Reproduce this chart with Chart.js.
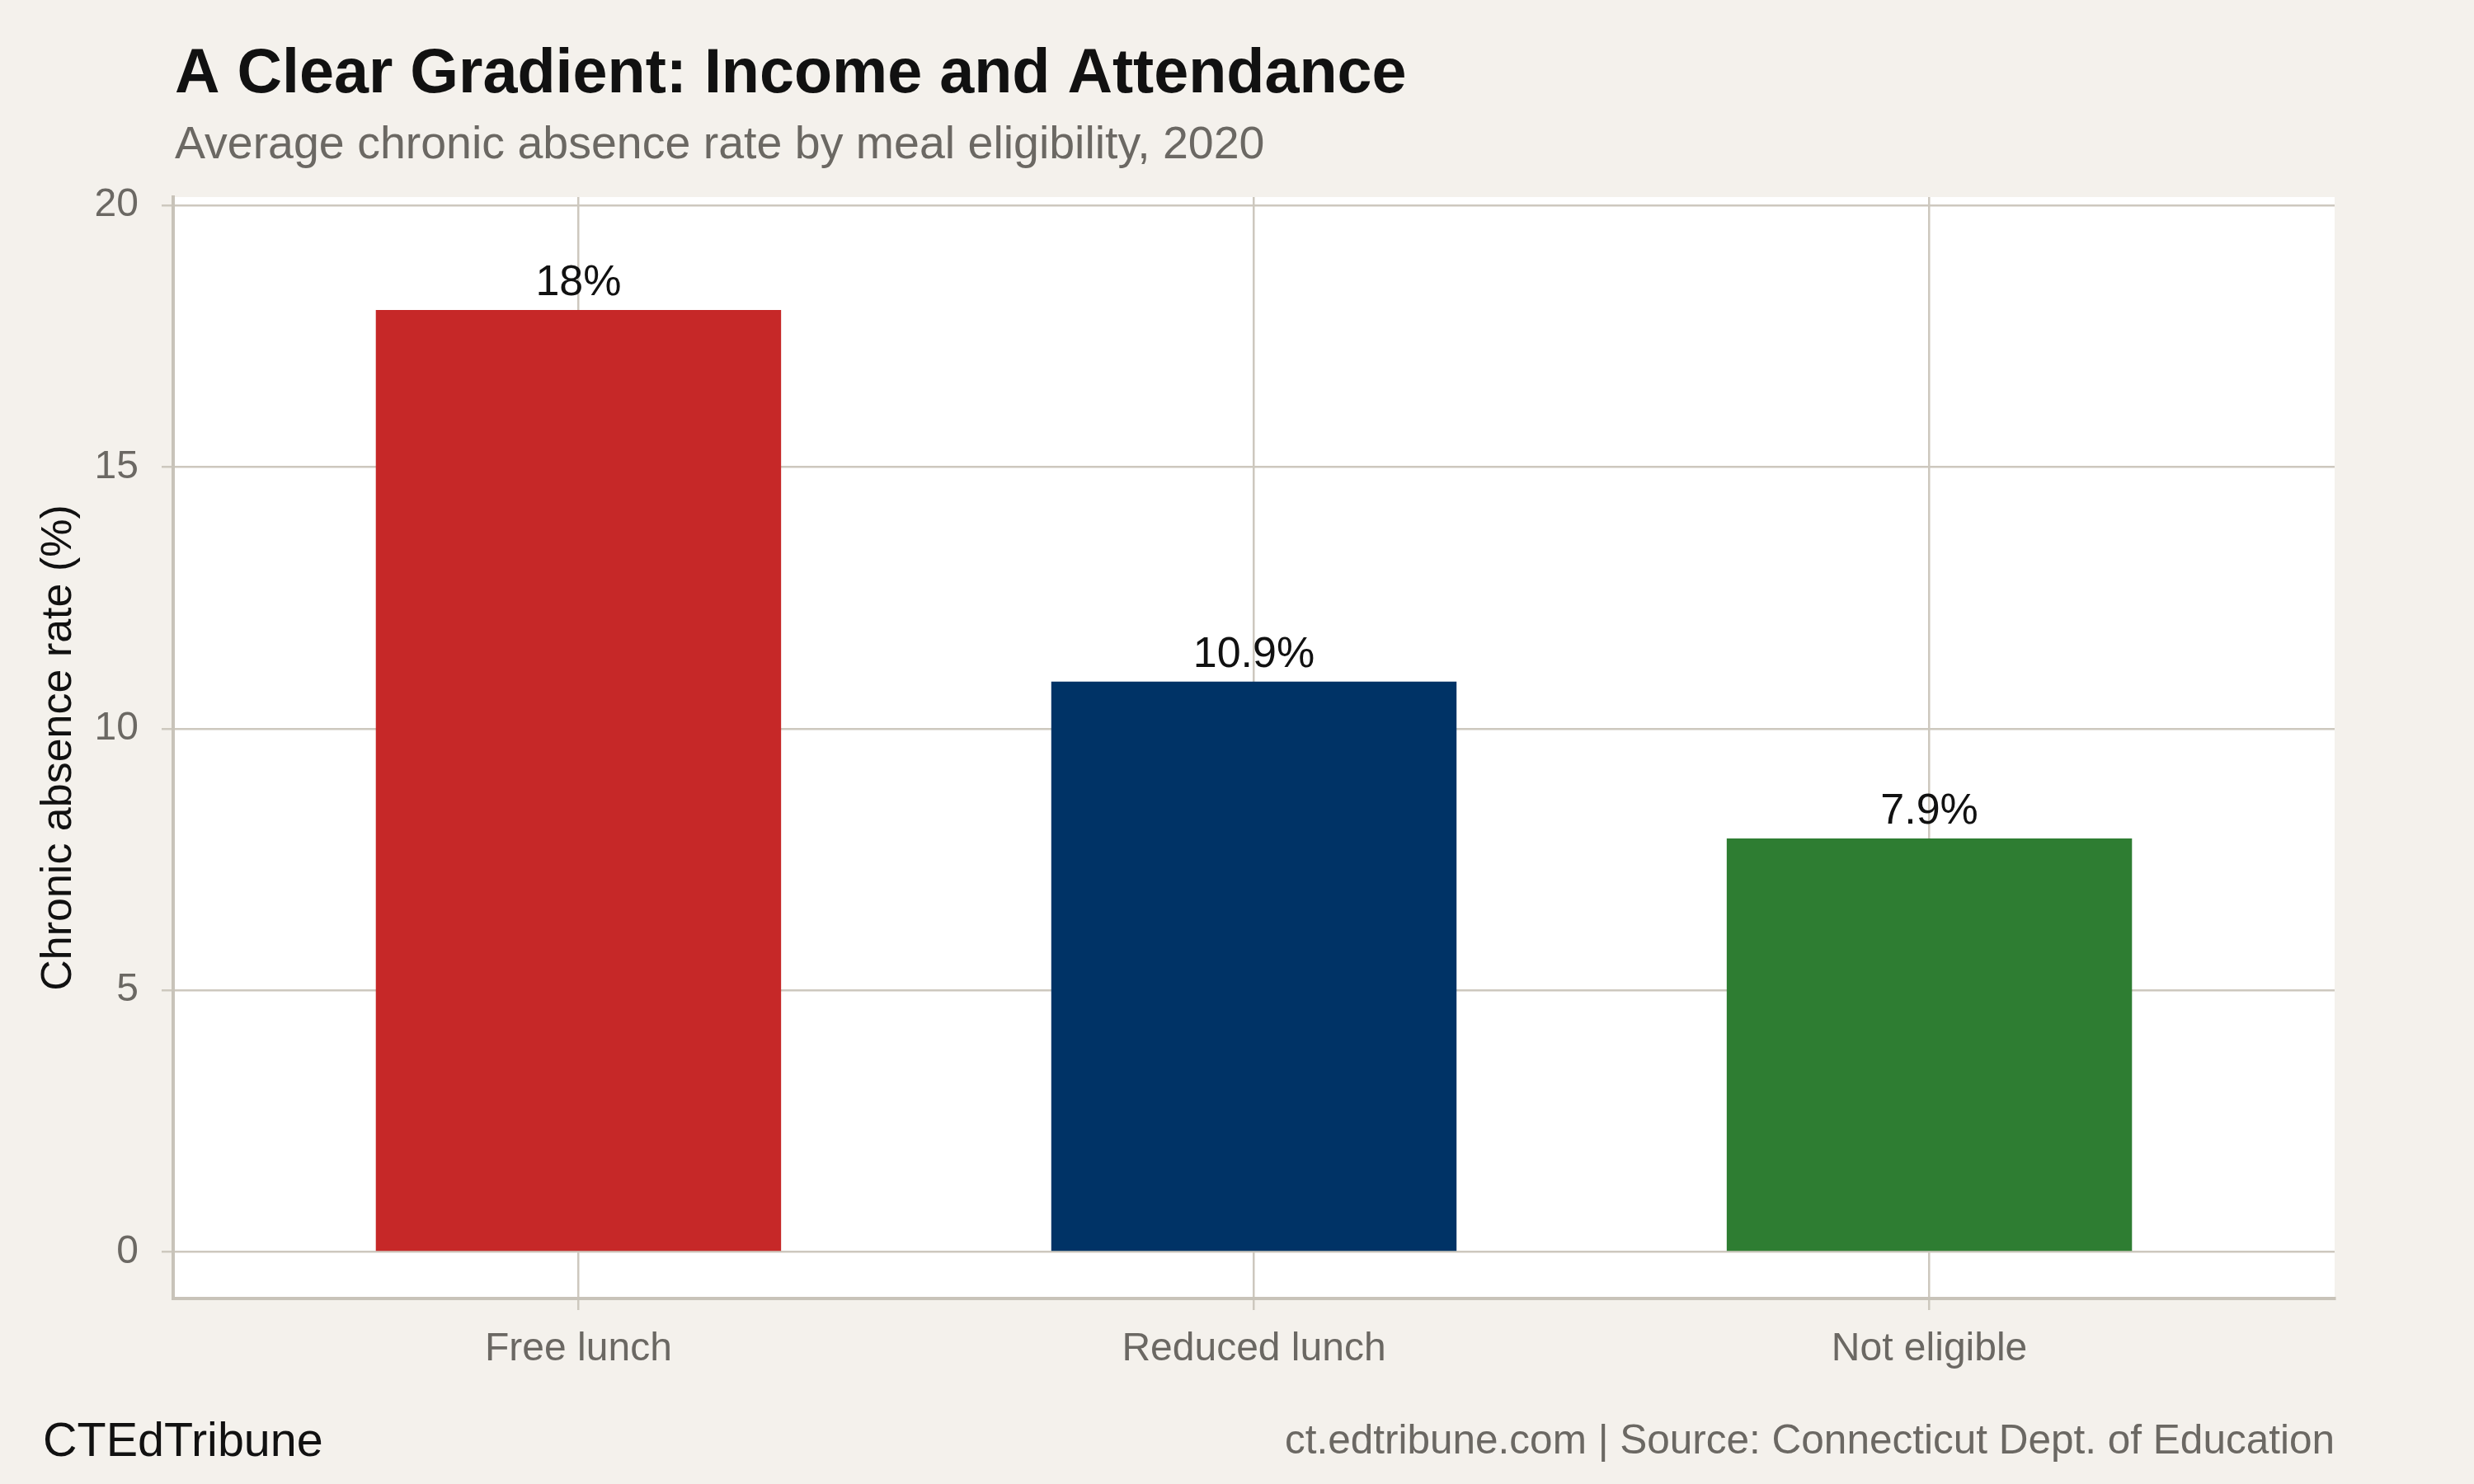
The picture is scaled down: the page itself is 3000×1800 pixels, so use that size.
<!DOCTYPE html>
<html>
<head>
<meta charset="utf-8">
<script src="https://cdn.jsdelivr.net/npm/chart.js@4.4.1/dist/chart.umd.min.js"></script>
<style>
  html, body { margin: 0; padding: 0; background: #f4f1ec; }
  canvas { display: block; }
</style>
</head>
<body>
<canvas id="chart" width="3000" height="1800" style="width:3000px;height:1800px"></canvas>
<script>
// ---- Data ----
const categories = ["Free lunch", "Reduced lunch", "Not eligible"];
const absenceRates = [18, 10.9, 7.9];
const barColors = ["#c62828", "#003366", "#2e7d32"];
const yTickValues = [0, 5, 10, 15, 20];

const titleText = "A Clear Gradient: Income and Attendance";
const subtitleText = "Average chronic absence rate by meal eligibility, 2020";
const yAxisTitle = "Chronic absence rate (%)";
const footerLeft = "CTEdTribune";
const footerRight = "ct.edtribune.com | Source: Connecticut Dept. of Education";

// ---- Style ----
const FONT = '"Liberation Sans", Arial, Helvetica, sans-serif';
const BG = '#f4f1ec';
const GRID = '#cdc8be';
const AXIS_LINE = '#c8c3b9';
const AXIS_TEXT = '#6b6863';
const DARK = '#111111';

const backgroundPlugin = {
  id: 'panelBackground',
  beforeDraw(chart) {
    const { ctx, chartArea: a } = chart;
    ctx.save();
    ctx.fillStyle = BG;
    ctx.fillRect(0, 0, chart.width, chart.height);
    ctx.fillStyle = '#ffffff';
    ctx.fillRect(a.left, a.top, a.right - a.left, a.bottom - a.top);
    ctx.restore();
  }
};

const valueLabelPlugin = {
  id: 'valueLabels',
  afterDatasetsDraw(chart) {
    const { ctx } = chart;
    const meta = chart.getDatasetMeta(0);
    ctx.save();
    ctx.font = `52px ${FONT}`;
    ctx.fillStyle = DARK;
    ctx.textAlign = 'center';
    ctx.textBaseline = 'alphabetic';
    meta.data.forEach((bar, i) => {
      ctx.fillText(`${absenceRates[i]}%`, bar.x, bar.y - 18);
    });
    ctx.restore();
  }
};

const textPlugin = {
  id: 'headerFooter',
  afterDraw(chart) {
    const { ctx, chartArea: a } = chart;
    ctx.save();
    ctx.textBaseline = 'alphabetic';
    ctx.textAlign = 'left';
    ctx.fillStyle = DARK;
    ctx.font = `bold 75.5px ${FONT}`;
    ctx.fillText(titleText, a.left + 2, 112);
    ctx.fillStyle = AXIS_TEXT;
    ctx.font = `55.5px ${FONT}`;
    ctx.fillText(subtitleText, a.left + 2, 192);
    ctx.fillStyle = DARK;
    ctx.font = `57.5px ${FONT}`;
    ctx.fillText(footerLeft, 52, 1766);
    ctx.textAlign = 'right';
    ctx.fillStyle = AXIS_TEXT;
    ctx.font = `49.5px ${FONT}`;
    ctx.fillText(footerRight, a.right, 1763);
    ctx.restore();
  }
};

new Chart(document.getElementById('chart'), {
  type: 'bar',
  data: {
    datasets: [{
      data: categories.map((c, i) => ({ x: i, y: absenceRates[i] })),
      backgroundColor: barColors,
      borderWidth: 0,
      barPercentage: 0.6,
      categoryPercentage: 1.0
    }]
  },
  options: {
    responsive: false,
    devicePixelRatio: 1,
    animation: false,
    layout: { padding: { top: 239, right: 169, left: 0, bottom: 0 } },
    plugins: {
      legend: { display: false },
      tooltip: { enabled: false },
      title: { display: false }
    },
    scales: {
      x: {
        type: 'linear',
        offset: false,
        min: -0.6,
        max: 2.6,
        afterBuildTicks(scale) { scale.ticks = categories.map((c, i) => ({ value: i })); },
        afterFit(scale) { scale.height = 225; },
        ticks: {
          callback: (v) => categories[v],
          font: { family: FONT, size: 48 },
          color: AXIS_TEXT,
          padding: 19,
          maxRotation: 0,
          autoSkip: false
        },
        grid: {
          offset: false,
          color: GRID,
          lineWidth: 2.5,
          tickLength: 14,
          tickColor: GRID,
          tickWidth: 2.5
        },
        border: { display: true, color: AXIS_LINE, width: 4 }
      },
      y: {
        min: -0.89,
        max: 20.16,
        afterBuildTicks(scale) { scale.ticks = yTickValues.map(v => ({ value: v })); },
        afterFit(scale) { scale.width = 210; },
        ticks: {
          callback: (v) => String(v),
          font: { family: FONT, size: 48 },
          color: AXIS_TEXT,
          padding: 28
        },
        grid: {
          color: GRID,
          lineWidth: 2.5,
          tickLength: 14,
          tickColor: GRID,
          tickWidth: 2.5
        },
        border: { display: true, color: AXIS_LINE, width: 4 },
        title: {
          display: true,
          text: yAxisTitle,
          font: { family: FONT, size: 52 },
          color: DARK,
          padding: { top: 40, bottom: 0 }
        }
      }
    }
  },
  plugins: [backgroundPlugin, valueLabelPlugin, textPlugin]
});
</script>
</body>
</html>
